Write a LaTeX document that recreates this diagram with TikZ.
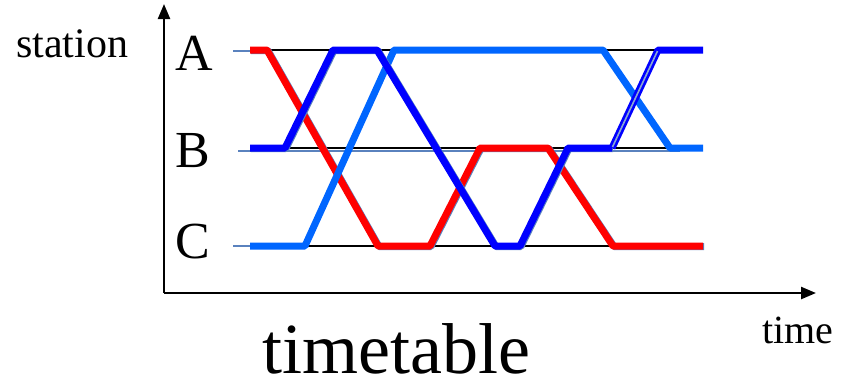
\documentclass[tikz,border=0pt]{standalone}
\usepackage{fontspec}
\setmainfont{Liberation Serif}
\usetikzlibrary{arrows.meta}
\definecolor{trainred}{RGB}{255,0,0}
\definecolor{trainblue}{RGB}{0,0,255}
\definecolor{trainlight}{RGB}{0,102,255}
\definecolor{shadowblue}{RGB}{90,130,190}
\begin{document}
\begin{tikzpicture}[x=1pt,y=-1pt,
  axisline/.style={line width=2.4pt,-{Triangle[length=15pt,width=12pt]}},
  stationline/.style={line width=1.5pt,black},
  stubline/.style={line width=1.3pt,shadowblue},
  train/.style={line width=7pt,line cap=butt,line join=bevel},
  shadowtrain/.style={line width=7pt,line cap=butt,line join=bevel,shadowblue},
  lbl/.style={inner sep=0pt,anchor=base west}]
\useasboundingbox (0,0) rectangle (847,381);
% axes
\coordinate (O) at (164,293);
\coordinate (ytop) at (164,4);
\coordinate (xend) at (816,293);
\draw[axisline] (O) -- (ytop);
\draw[axisline] (O) -- (xend);
% station reference lines
\draw[stubline] (233,51) -- (250,51);
\draw[stubline] (238,151) -- (680,151);
\draw[stubline] (233,246) -- (250,246);
\draw[stationline] (250,50) -- (700,50);
\draw[stationline] (285,148) -- (700,148);
\draw[stationline] (250,246) -- (700,246);
% shadows
\draw[shadowtrain] (251,50.5) -- (268,50.5) -- (379,246.5) -- (431,246.5) -- (481,148.5) -- (549,148.5) -- (614,246.5) -- (704,246.5);
% red train
\draw[train,trainred] (250,50) -- (267,50) -- (378,246) -- (430,246) -- (480,148) -- (548,148) -- (613,246) -- (703,246);
% light blue train
\draw[train,trainlight] (250,246) -- (305,246) -- (394,50) -- (603,50) -- (670,148) -- (703,148);
% dark blue train
\draw[shadowtrain] (251,148.5) -- (286,148.5) -- (334,50.5) -- (378,50.5) -- (496,246.5) -- (521,246.5) -- (569,148.5) -- (613,148.5);
\draw[train,trainblue] (250,148) -- (285,148) -- (333,50) -- (377,50) -- (495,246) -- (520,246) -- (568,148) -- (612,148);
\draw[train,trainblue] (612,148) -- (658,50) -- (703,50);
\draw[line width=1.6pt,shadowblue!70!white,line cap=butt] (612.5,147) -- (657.5,51);
% labels
\node[lbl,font=\fontsize{42}{42}\selectfont] (station) at (16,57) {station};
\node[lbl,font=\fontsize{52}{52}\selectfont] (labA) at (175,70) {A};
\node[lbl,font=\fontsize{52}{52}\selectfont] (labB) at (175,167) {B};
\node[lbl,font=\fontsize{52}{52}\selectfont] (labC) at (175,258) {C};
\node[lbl,font=\fontsize{40}{40}\selectfont] (time) at (762,343) {time};
\node[lbl,font=\fontsize{72}{72}\selectfont] (timetable) at (262,373) {timetable};
\end{tikzpicture}
\end{document}
